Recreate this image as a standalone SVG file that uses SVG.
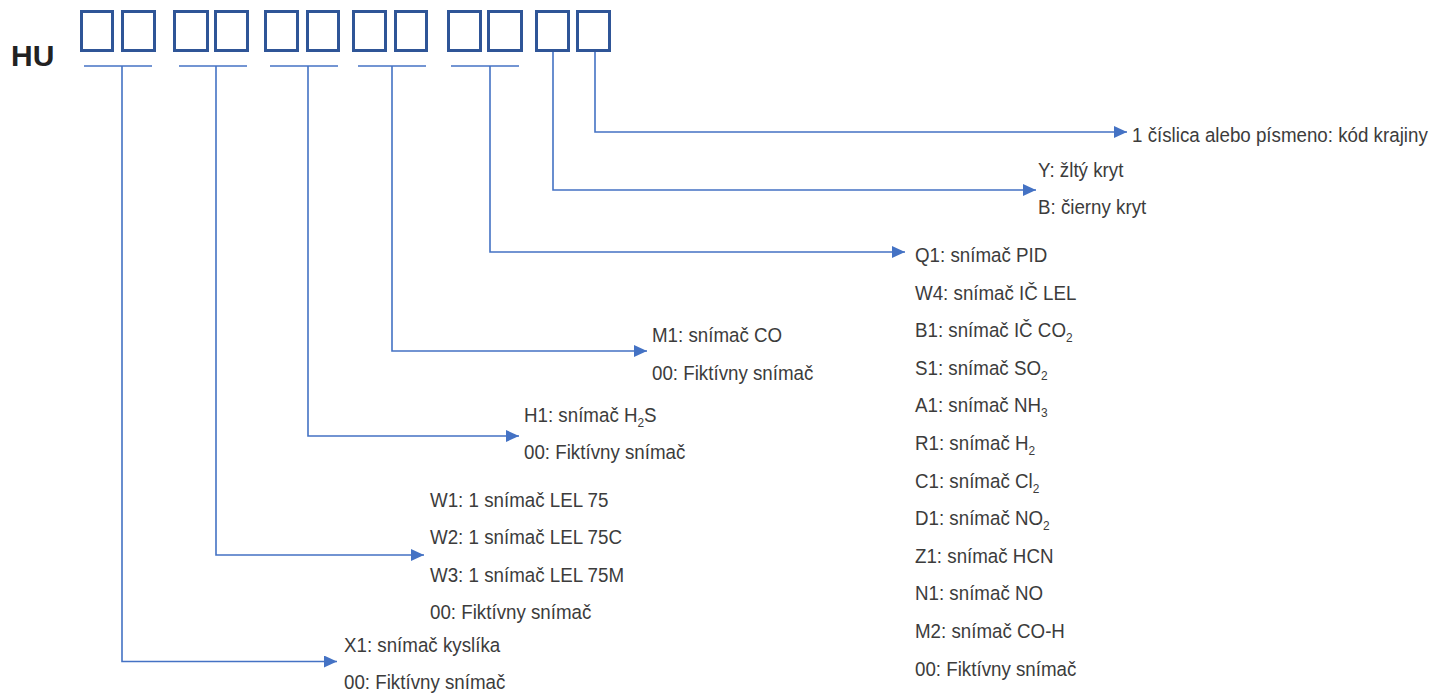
<svg xmlns="http://www.w3.org/2000/svg" width="1442" height="694" viewBox="0 0 1442 694">
<defs>
<style>
.box{fill:none;stroke:#2F5597;stroke-width:3}
.ul{stroke:#4472C4;stroke-width:1.6;fill:none}
.con{stroke:#4472C4;stroke-width:1.6;fill:none;marker-end:url(#ah)}
.t{font-family:"Liberation Sans",Arial,sans-serif;font-size:20.5px;fill:#3c3c3c}
.sub{font-size:13px}
.hu{font-family:"Liberation Sans",Arial,sans-serif;font-size:30px;font-weight:bold;fill:#222}
</style>
<marker id="ah" markerUnits="userSpaceOnUse" markerWidth="14" markerHeight="13" refX="13" refY="6" orient="auto">
<path d="M0,0 L13,6 L0,12 z" fill="#4472C4"/>
</marker>
</defs>
<rect width="1442" height="694" fill="#fff"/>

<g id="code">
<text class="hu" x="11" y="66">HU</text>
<rect class="box" x="81.5" y="11.5" width="31" height="39"/>
<rect class="box" x="122.5" y="11.5" width="32" height="39"/>
<rect class="box" x="174.5" y="11.5" width="33" height="39"/>
<rect class="box" x="215.5" y="11.5" width="32" height="39"/>
<rect class="box" x="265.5" y="11.5" width="32" height="39"/>
<rect class="box" x="307.5" y="11.5" width="31" height="39"/>
<rect class="box" x="353.5" y="11.5" width="32" height="39"/>
<rect class="box" x="395.5" y="11.5" width="31" height="39"/>
<rect class="box" x="448.5" y="11.5" width="32" height="39"/>
<rect class="box" x="488.5" y="11.5" width="33" height="39"/>
<rect class="box" x="536.5" y="11.5" width="32" height="39"/>
<rect class="box" x="577.5" y="11.5" width="32" height="39"/>
</g>

<g id="connectors">
<line class="ul" x1="84" y1="66" x2="152" y2="66"/>
<line class="ul" x1="179" y1="66" x2="247" y2="66"/>
<line class="ul" x1="270" y1="66" x2="338" y2="66"/>
<line class="ul" x1="358" y1="66" x2="426" y2="66"/>
<line class="ul" x1="451" y1="66" x2="519" y2="66"/>
<path class="con" d="M122,66 V661.5 H337"/>
<path class="con" d="M216,66 V555 H424"/>
<path class="con" d="M308,66 V436 H519"/>
<path class="con" d="M392,66 V351 H647"/>
<path class="con" d="M490,66 V252 H905"/>
<path class="con" d="M553,52 V190 H1036"/>
<path class="con" d="M595,52 V132 H1127"/>
</g>

<g id="oxygen" transform="translate(344,0) scale(0.915,1)">
<text class="t" x="0" y="652">X1: snímač kyslíka</text>
<text class="t" x="0" y="689">00: Fiktívny snímač</text>
</g>

<g id="lel" transform="translate(430,0) scale(0.915,1)">
<text class="t" x="0" y="507">W1: 1 snímač LEL 75</text>
<text class="t" x="0" y="544">W2: 1 snímač LEL 75C</text>
<text class="t" x="0" y="582">W3: 1 snímač LEL 75M</text>
<text class="t" x="0" y="619">00: Fiktívny snímač</text>
</g>

<g id="h2s" transform="translate(524,0) scale(0.915,1)">
<text class="t" x="0" y="422">H1: snímač H<tspan class="sub" dy="5">2</tspan><tspan dy="-5">S</tspan></text>
<text class="t" x="0" y="459">00: Fiktívny snímač</text>
</g>

<g id="co" transform="translate(652,0) scale(0.915,1)">
<text class="t" x="0" y="342">M1: snímač CO</text>
<text class="t" x="0" y="380">00: Fiktívny snímač</text>
</g>

<g id="sensor5" transform="translate(915,0) scale(0.915,1)">
<text class="t" x="0" y="262">Q1: snímač PID</text>
<text class="t" x="0" y="299.6">W4: snímač IČ LEL</text>
<text class="t" x="0" y="337.2">B1: snímač IČ CO<tspan class="sub" dy="5">2</tspan></text>
<text class="t" x="0" y="374.8">S1: snímač SO<tspan class="sub" dy="5">2</tspan></text>
<text class="t" x="0" y="412.4">A1: snímač NH<tspan class="sub" dy="5">3</tspan></text>
<text class="t" x="0" y="450">R1: snímač H<tspan class="sub" dy="5">2</tspan></text>
<text class="t" x="0" y="487.6">C1: snímač Cl<tspan class="sub" dy="5">2</tspan></text>
<text class="t" x="0" y="525.2">D1: snímač NO<tspan class="sub" dy="5">2</tspan></text>
<text class="t" x="0" y="562.8">Z1: snímač HCN</text>
<text class="t" x="0" y="600.4">N1: snímač NO</text>
<text class="t" x="0" y="638">M2: snímač CO-H</text>
<text class="t" x="0" y="675.6">00: Fiktívny snímač</text>
</g>

<g id="cover" transform="translate(1038,0) scale(0.915,1)">
<text class="t" x="0" y="177">Y: žltý kryt</text>
<text class="t" x="0" y="214">B: čierny kryt</text>
</g>

<g id="country" transform="translate(1132,0) scale(0.915,1)">
<text class="t" x="0" y="142">1 číslica alebo písmeno: kód krajiny</text>
</g>
</svg>
